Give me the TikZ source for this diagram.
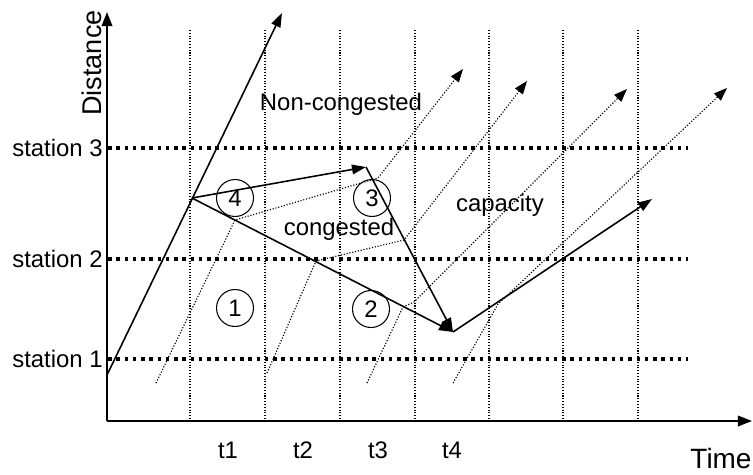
\documentclass[tikz,border=0pt]{standalone}
\usepackage{fontspec}
\setmainfont{Liberation Sans}
\usetikzlibrary{arrows.meta}

\begin{document}
\begin{tikzpicture}[x=0.02cm,y=-0.02cm]
			\tikzset{lab/.style={font=\fontsize{13.6}{16}\selectfont,inner sep=0pt},
				axis/.style={line width=1pt,-{Triangle[length=8pt,width=6pt]}},
				gridline/.style={densely dotted,line width=0.6pt},
				stationline/.style={line width=2pt,dash pattern=on 2pt off 2.7pt},
				traj/.style={line width=0.9pt,-{Triangle[length=8pt,width=5.5pt]}},
				probe/.style={densely dotted,line width=0.65pt,-{Triangle[length=7.5pt,width=5.5pt]}},
				regionmark/.style={lab,draw,circle,line width=0.6pt,minimum size=0.74cm}}
			\useasboundingbox (0,0) rectangle (753,474);
			% time slices
			\foreach \x in {190,265,340,415,489,563,638}
				\draw[gridline] (\x,30) -- (\x,421);
			% stations
			\foreach \s/\y in {1/359,2/259,3/148}{
				\node[lab,anchor=east] (st\s) at (103,\y) {station \s};
				\draw[stationline] (st\s.east) ++(5,0) -- (688,\y);
			}
			% axes
			\coordinate (O) at (107,421);
			\coordinate (ytop) at (107,12);
			\coordinate (xend) at (752,421);
			\draw[axis] (O) -- (ytop);
			\draw[axis] (O) -- (xend);
			\node[lab,font=\fontsize{15.4}{18}\selectfont,rotate=90] (dist) at (92,63) {Distance};
			\node[lab,font=\fontsize{15.9}{18}\selectfont] (time) at (721,459) {Time};
			\foreach \t/\x in {1/228,2/303,3/378,4/452}
				\node[lab] (t\t) at (\x,450) {t\t};
			% wave front (solid)
			\coordinate (v0) at (107,375);
			\coordinate (v1) at (282,13);
			\coordinate (p) at (192,198);
			\coordinate (q) at (366,167);
			\coordinate (r) at (453,332);
			\coordinate (u) at (652,199);
			\draw[traj] (v0) -- (v1);
			\draw[traj] (p) -- (q);
			\draw[traj] (q) -- (r);
			\draw[traj] (p) -- (r);
			\draw[traj] (r) -- (u);
			% vehicles (dotted)
			\coordinate (a0) at (156,383); \coordinate (a1) at (235,220);
			\coordinate (a2) at (378,178); \coordinate (a3) at (463,69);
			\coordinate (b0) at (267,373); \coordinate (b1) at (316,261);
			\coordinate (b2) at (404,240); \coordinate (b3) at (527,81);
			\coordinate (c0) at (367,383); \coordinate (c1) at (403,307);
			\coordinate (c2) at (414,302); \coordinate (c3) at (627,89);
			\coordinate (d0) at (453,383); \coordinate (d1) at (498,304);
			\coordinate (d2) at (727,88);
			\draw[probe] (a0) -- (a1) -- (a2) -- (a3);
			\draw[probe] (b0) -- (b1) -- (b2) -- (b3);
			\draw[probe] (c0) -- (c1) -- (c2) -- (c3);
			\draw[probe] (d0) -- (d1) -- (d2);
			% regions
			\node[regionmark] (r1) at (235,308) {1};
			\node[regionmark] (r2) at (371,309) {2};
			\node[regionmark] (r3) at (372,198) {3};
			\node[regionmark] (r4) at (235,198) {4};
			\node[lab] (noncong) at (341,104) {Non-congested};
			\node[lab] (cong) at (339,229) {congested};
			\node[lab] (cap) at (500,205) {capacity};
		\end{tikzpicture}
\end{document}
